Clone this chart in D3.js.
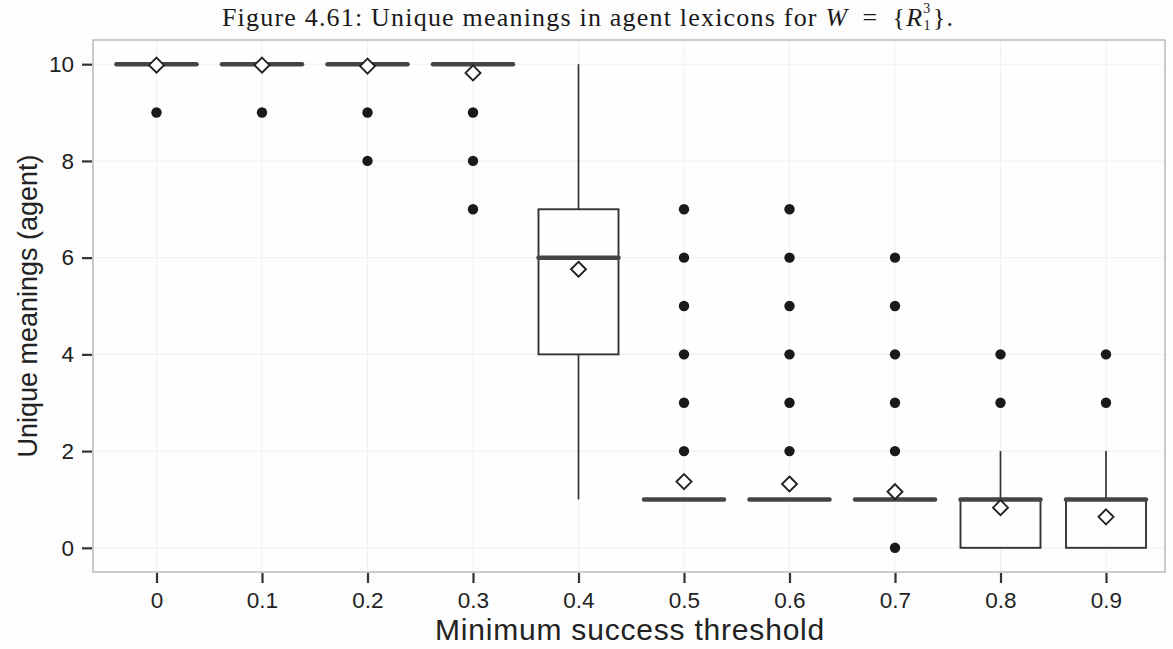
<!DOCTYPE html>
<html><head><meta charset="utf-8">
<script src="https://cdn.jsdelivr.net/npm/d3@7"></script>
<style>body{margin:0;background:#fdfdfd;} svg{display:block;}</style>
</head><body>
<svg id="chart" width="1173" height="649"></svg>
<script>
const categories = ["0","0.1","0.2","0.3","0.4","0.5","0.6","0.7","0.8","0.9"];
const q1 =          [10,10,10,10,4,1,1,1,0,0];
const medians =     [10,10,10,10,6,1,1,1,1,1];
const q3 =          [10,10,10,10,7,1,1,1,1,1];
const whiskerLow =  [10,10,10,10,1,1,1,1,0,0];
const whiskerHigh = [10,10,10,10,10,1,1,1,2,2];
const means =       [9.98,9.98,9.96,9.82,5.76,1.37,1.32,1.16,0.83,0.64];
const outliers = [[9],[9],[9,8],[9,8,7],[],[2,3,4,5,6,7],[2,3,4,5,6,7],[0,2,3,4,5,6],[3,4],[3,4]];
const yTicks = [0,2,4,6,8,10];

const svg = d3.select("#chart");
const panel = {left:93, right:1165, top:40, bottom:572};

const x = d3.scalePoint().domain(categories).range([156.5, 1106]);
const y = d3.scaleLinear().domain([-0.5,10.5]).range([panel.bottom, panel.top]);
const boxW = 80;

// panel background and grid
svg.append("rect").attr("x",panel.left).attr("y",panel.top)
  .attr("width",panel.right-panel.left).attr("height",panel.bottom-panel.top)
  .attr("fill","#fefefe");
const g = svg.append("g");
g.selectAll(".gy").data(yTicks).join("line")
  .attr("x1",panel.left).attr("x2",panel.right)
  .attr("y1",d=>y(d)).attr("y2",d=>y(d))
  .attr("stroke","#f0f0f0").attr("stroke-width",1);
g.selectAll(".gx").data(categories).join("line")
  .attr("x1",d=>x(d)).attr("x2",d=>x(d))
  .attr("y1",panel.top).attr("y2",panel.bottom)
  .attr("stroke","#f0f0f0").attr("stroke-width",1);

// boxplots
const data = categories.map((c,i)=>({c,q1:q1[i],med:medians[i],q3:q3[i],lo:whiskerLow[i],hi:whiskerHigh[i],mean:means[i],out:outliers[i]}));
const bx = svg.append("g");
data.forEach(d=>{
  const cx = x(d.c);
  bx.append("line").attr("x1",cx).attr("x2",cx).attr("y1",y(d.q3)).attr("y2",y(d.hi))
    .attr("stroke","#333").attr("stroke-width",1.7);
  bx.append("line").attr("x1",cx).attr("x2",cx).attr("y1",y(d.q1)).attr("y2",y(d.lo))
    .attr("stroke","#333").attr("stroke-width",1.7);
  bx.append("rect").attr("x",cx-boxW/2).attr("width",boxW)
    .attr("y",y(d.q3)).attr("height",Math.max(0,y(d.q1)-y(d.q3)))
    .attr("fill","#fefefe").attr("stroke","#333").attr("stroke-width",1.9);
  bx.append("line").attr("x1",cx-boxW/2).attr("x2",cx+boxW/2)
    .attr("y1",y(d.med)).attr("y2",y(d.med))
    .attr("stroke","#444").attr("stroke-width",4.5).attr("stroke-linecap","round");
  bx.selectAll(null).data(d.out).join("circle")
    .attr("cx",cx).attr("cy",v=>y(v)).attr("r",5.2).attr("fill","#1a1a1a");
  const s = 7.5;
  const my = y(d.mean);
  bx.append("path").attr("d",`M${cx},${my-s}L${cx+s},${my}L${cx},${my+s}L${cx-s},${my}Z`)
    .attr("fill","#fefefe").attr("stroke","#222").attr("stroke-width",1.9);
});

// panel border
svg.append("rect").attr("x",panel.left).attr("y",panel.top)
  .attr("width",panel.right-panel.left).attr("height",panel.bottom-panel.top)
  .attr("fill","none").attr("stroke","#9a9a9a").attr("stroke-width",1);

// axes
const yAxis = svg.append("g").attr("transform",`translate(${panel.left-1},0)`)
  .call(d3.axisLeft(y).tickValues(yTicks).tickSize(10).tickPadding(8).tickFormat(d3.format("d")));
const xAxis = svg.append("g").attr("transform",`translate(0,${panel.bottom+1})`)
  .call(d3.axisBottom(x).tickSize(10).tickPadding(9));
[yAxis,xAxis].forEach(a=>{
  a.select(".domain").remove();
  a.selectAll(".tick line").attr("stroke","#333").attr("stroke-width",2.2);
  a.selectAll(".tick text").attr("fill","#222").style("font-family","Liberation Sans, Arial, sans-serif").style("font-size","22.5px");
});

// axis titles
svg.append("text").attr("x",630).attr("y",640).attr("text-anchor","middle")
  .style("font-family","Liberation Sans, Arial, sans-serif").style("font-size","30px")
  .style("letter-spacing","0.8px").attr("fill","#222")
  .text("Minimum success threshold");
svg.append("text").attr("transform","translate(37,306) rotate(-90)").attr("text-anchor","middle")
  .style("font-family","Liberation Sans, Arial, sans-serif").style("font-size","27px").attr("fill","#222")
  .text("Unique meanings (agent)");

// figure caption
const t = svg.append("text").attr("x",588).attr("y",26).attr("text-anchor","middle")
  .style("font-family","Liberation Serif, Times New Roman, serif").style("font-size","26px")
  .style("letter-spacing","1.2px").attr("fill","#1a1a1a");
t.append("tspan").text("Figure 4.61: Unique meanings in agent lexicons for ");
t.append("tspan").style("font-style","italic").text("W");
t.append("tspan").text("\u2002=\u2002{");
t.append("tspan").style("font-style","italic").text("R");
t.append("tspan").attr("dy",-13).style("font-size","14px").text("3");
t.append("tspan").attr("dx",-8).attr("dy",17).style("font-size","14px").text("1");
t.append("tspan").attr("dx",1).attr("dy",-4).text("}.");
</script>
</body></html>
